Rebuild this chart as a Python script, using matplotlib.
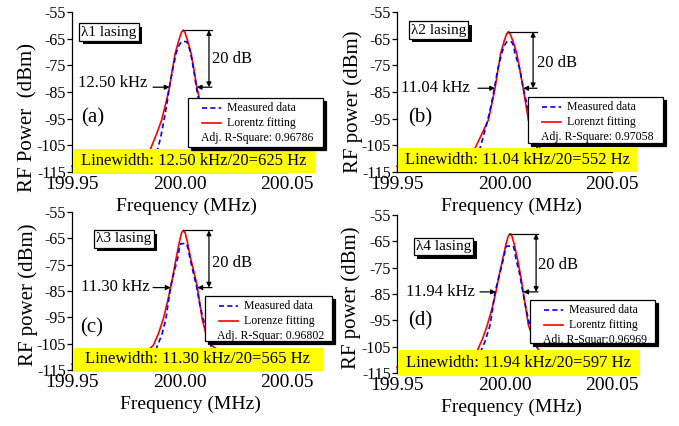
import matplotlib
matplotlib.use('Agg')
import matplotlib.pyplot as plt
from matplotlib.patches import Rectangle
from matplotlib.lines import Line2D
import matplotlib.patheffects as pe
from matplotlib.ticker import FixedLocator, FuncFormatter

plt.rcParams['font.family'] = ['Liberation Serif', 'DejaVu Serif']

# ---------------- data ----------------
x_ticks = [199.95, 200.00, 200.05]
y_ticks = [-115, -105, -95, -85, -75, -65, -55]

# panel (a)
fit_f_a = [199.9500, 199.9657, 199.9757, 199.9822, 199.9865, 199.9892, 199.9917, 199.9937, 199.9954,
           199.9967, 199.9980, 199.9997, 200.0009, 200.0017, 200.0025, 200.0037, 200.0054, 200.0067,
           200.0080, 200.0097, 200.0117, 200.0140, 200.0162, 200.0212, 200.0277, 200.0377, 200.0500]
fit_p_a = [-112.8, -112.3, -111.5, -109.5, -106.4, -101.0, -95.5, -89.0, -83.0,
           -76.5, -70.5, -65.5, -62.6, -61.8, -62.6, -65.5, -70.5, -76.5,
           -83.0, -89.0, -95.5, -101.0, -106.4, -109.5, -111.5, -112.3, -112.8]
meas_f_a = [199.9500, 199.9850, 199.9885, 199.9900, 199.9913, 199.9928, 199.9942, 199.9953, 199.9968,
            199.9984, 199.9998, 200.0010, 200.0033, 200.0042, 200.0052, 200.0066, 200.0078, 200.0092,
            200.0106, 200.0121, 200.0133, 200.0148, 200.0185, 200.0500]
meas_p_a = [-113.0, -112.5, -110.0, -106.0, -101.8, -95.5, -89.2, -83.0, -76.7,
            -70.5, -67.5, -66.1, -66.1, -67.5, -70.5, -76.7, -83.0, -89.2,
            -95.5, -101.8, -105.6, -110.0, -112.5, -113.0]

# panel (b)
fit_f_b = [199.9500, 199.9660, 199.9760, 199.9822, 199.9863, 199.9893, 199.9925, 199.9941, 199.9956,
           199.9969, 199.9982, 199.9998, 200.0010, 200.0018, 200.0026, 200.0040, 200.0057, 200.0072,
           200.0087, 200.0099, 200.0111, 200.0136, 200.0165, 200.0212, 200.0277, 200.0377, 200.0500]
fit_p_b = [-112.8, -112.3, -111.5, -109.5, -106.1, -101.0, -95.5, -89.5, -83.6,
           -77.0, -70.5, -66.0, -63.2, -62.4, -63.2, -66.0, -70.5, -77.0,
           -83.6, -89.5, -95.5, -101.0, -106.1, -109.5, -111.5, -112.3, -112.8]
meas_f_b = [199.9500, 199.9850, 199.9873, 199.9886, 199.9901, 199.9922, 199.9940, 199.9953, 199.9968,
            199.9987, 199.9999, 200.0010, 200.0033, 200.0042, 200.0049, 200.0072, 200.0087, 200.0103,
            200.0118, 200.0135, 200.0152, 200.0165, 200.0195, 200.0500]
meas_p_b = [-113.0, -112.5, -110.0, -106.1, -101.8, -95.5, -89.2, -83.6, -76.7,
            -70.5, -67.6, -66.2, -66.2, -67.6, -70.5, -76.7, -83.6, -89.2,
            -95.5, -101.8, -106.1, -110.0, -112.5, -113.0]

# panel (c)
fit_f_c = [199.9500, 199.9660, 199.9760, 199.9830, 199.9878, 199.9903, 199.9925, 199.9943, 199.9959,
           199.9972, 199.9984, 199.9999, 200.0010, 200.0018, 200.0026, 200.0037, 200.0052, 200.0068,
           200.0083, 200.0094, 200.0105, 200.0125, 200.0150, 200.0205, 200.0277, 200.0377, 200.0500]
fit_p_c = [-112.8, -112.3, -111.5, -109.0, -105.7, -101.0, -95.5, -89.5, -83.5,
           -78.0, -72.7, -66.5, -62.8, -62.0, -62.8, -66.5, -72.7, -78.0,
           -83.5, -89.5, -95.5, -101.9, -105.7, -109.0, -111.5, -112.3, -112.8]
meas_f_c = [199.9500, 199.9850, 199.9882, 199.9897, 199.9917, 199.9937, 199.9948, 199.9959, 199.9971,
            199.9991, 199.9999, 200.0006, 200.0033, 200.0040, 200.0049, 200.0067, 200.0080, 200.0092,
            200.0110, 200.0130, 200.0150, 200.0165, 200.0195, 200.0500]
meas_p_c = [-113.0, -112.5, -110.0, -105.7, -101.9, -95.5, -89.2, -83.5, -79.1,
            -72.7, -69.0, -67.0, -67.0, -69.0, -72.7, -79.1, -83.5, -89.2,
            -95.5, -101.9, -106.8, -110.0, -112.5, -113.0]

# panel (d)
fit_f_d = [199.9500, 199.9660, 199.9760, 199.9830, 199.9871, 199.9898, 199.9920, 199.9942, 199.9960,
           199.9976, 199.9992, 200.0007, 200.0018, 200.0026, 200.0034, 200.0045, 200.0060, 200.0074,
           200.0087, 200.0099, 200.0111, 200.0134, 200.0162, 200.0212, 200.0285, 200.0385, 200.0500]
fit_p_d = [-112.8, -112.3, -111.5, -109.5, -106.9, -102.0, -96.8, -90.5, -84.2,
           -77.5, -71.6, -66.0, -62.9, -62.1, -62.9, -66.0, -71.6, -77.5,
           -84.2, -90.5, -96.8, -102.0, -106.9, -109.5, -111.5, -112.3, -112.8]
meas_f_d = [199.9500, 199.9850, 199.9876, 199.9889, 199.9909, 199.9933, 199.9945, 199.9956, 199.9976,
            199.9995, 200.0003, 200.0010, 200.0041, 200.0047, 200.0053, 200.0072, 200.0085, 200.0100,
            200.0117, 200.0138, 200.0157, 200.0170, 200.0200, 200.0500]
meas_p_d = [-113.0, -112.5, -110.0, -106.9, -103.1, -96.8, -90.5, -84.2, -77.9,
            -71.6, -68.5, -66.8, -66.8, -68.5, -71.6, -77.9, -84.2, -90.5,
            -96.8, -103.1, -106.2, -110.0, -112.5, -113.0]

panel_letters = ['(a)', '(b)', '(c)', '(d)']
lasing_labels = ['\u03bb1 lasing', '\u03bb2 lasing', '\u03bb3 lasing', '\u03bb4 lasing']
ylabels = ['RF Power  (dBm)', 'RF power (dBm)', 'RF power (dBm)', 'RF power (dBm)']
width_labels = ['12.50 kHz', '11.04 kHz', '11.30 kHz', '11.94 kHz']
linewidth_labels = ['Linewidth: 12.50 kHz/20=625 Hz', 'Linewidth: 11.04 kHz/20=552 Hz',
                    'Linewidth: 11.30 kHz/20=565 Hz', 'Linewidth: 11.94 kHz/20=597 Hz']
fit_names = ['Lorentz fitting', 'Lorenzt fitting', 'Lorenze fitting', 'Lorentz fitting']
rsq_labels = ['Adj. R-Square: 0.96786', 'Adj. R-Square: 0.97058',
              'Adj. R-Squar: 0.96802', 'Adj. R-Squar:0.96969']
meas_name = 'Measured data'
db_label = '20 dB'

# ---------------- layout ----------------
W, H = 679, 426
fig = plt.figure(figsize=(W / 100, H / 100), dpi=100)

panels = [
    dict(rect=[72, 12, 215, 160], fit=(fit_f_a, fit_p_a), meas=(meas_f_a, meas_p_a),
         level=-83.2, txt_x=199.9849, txt_y=-81.6, lt=199.9877, lh=199.9954, rt=200.0151, rh=200.0080,
         vx=200.0137, dbx=200.0153, dby=-72.6,
         leg=(0.54, 1.167, 0.156, 0.4625), lam=(0.172, 0.875), let=(0.098, 0.34),
         yel=(0.003, 1.13, -0.004, 0.144), ylab=(-0.16, 0.34), xlab=0.53),
    dict(rect=[397, 12, 215, 160], fit=(fit_f_b, fit_p_b), meas=(meas_f_b, meas_p_b),
         level=-83.6, txt_x=199.9840, txt_y=-83.4, lt=199.9877, lh=199.9956, rt=200.0151, rh=200.0087,
         vx=200.0133, dbx=200.0150, dby=-74.1,
         leg=(0.609, 1.237, 0.181, 0.469), lam=(0.193, 0.8875), let=(0.107, 0.3375),
         yel=(0.003, 1.116, 0.0, 0.15), ylab=(-0.16, 0.44), xlab=0.53),
    dict(rect=[72, 212, 215, 158], fit=(fit_f_c, fit_p_c), meas=(meas_f_c, meas_p_c),
         level=-83.7, txt_x=199.9863, txt_y=-83.4, lt=199.9877, lh=199.9959, rt=200.0151, rh=200.0083,
         vx=200.0137, dbx=200.0150, dby=-74.5,
         leg=(0.619, 1.209, 0.184, 0.468), lam=(0.24, 0.83), let=(0.093, 0.266),
         yel=(0.005, 1.167, -0.006, 0.139), ylab=(-0.158, 0.475), xlab=0.55),
    dict(rect=[397, 215, 215, 158], fit=(fit_f_d, fit_p_d), meas=(meas_f_d, meas_p_d),
         level=-84.2, txt_x=199.9863, txt_y=-84.2, lt=199.9886, lh=199.9960, rt=200.0156, rh=200.0087,
         vx=200.0147, dbx=200.0155, dby=-74.1,
         leg=(0.619, 1.2, 0.19, 0.462), lam=(0.216, 0.80), let=(0.107, 0.33),
         yel=(0.003, 1.13, -0.02, 0.146), ylab=(-0.168, 0.475), xlab=0.53),
]

RED = '#FF0000'
BLUE = '#0000FF'
YEL = '#FFFF00'

for i, p in enumerate(panels):
    l, t, w, h = p['rect']
    ax = fig.add_axes([l / W, 1 - (t + h) / H, w / W, h / H])
    ax.set_facecolor('none')
    ax.set_xlim(199.95, 200.05)
    ax.set_ylim(-115, -55)
    for s in ['top', 'right']:
        ax.spines[s].set_visible(False)
    for s in ['left', 'bottom']:
        ax.spines[s].set_linewidth(0.9)
    ax.xaxis.set_major_locator(FixedLocator(x_ticks))
    ax.xaxis.set_minor_locator(FixedLocator([199.975, 200.025]))
    ax.yaxis.set_major_locator(FixedLocator(y_ticks))
    ax.xaxis.set_major_formatter(FuncFormatter(lambda v, pos: '%.2f' % v))
    ax.yaxis.set_major_formatter(FuncFormatter(lambda v, pos: '%d' % round(v)))
    ax.tick_params(axis='x', which='both', direction='in', length=4, width=0.9, pad=3, labelsize=14)
    ax.tick_params(axis='y', which='major', direction='out', length=3.5, width=0.9, pad=1, labelsize=11.5)
    ax.set_xlabel('Frequency (MHz)', fontsize=14, labelpad=0)
    ax.xaxis.set_label_coords(p['xlab'], -0.163)
    ax.set_ylabel(ylabels[i], fontsize=15)
    ax.yaxis.set_label_coords(p['ylab'][0], p['ylab'][1])

    ff, fp = p['fit']
    mf, mp = p['meas']
    ax.plot(ff, fp, color=RED, lw=1.2, zorder=2, clip_on=False)
    ax.plot(mf, mp, color=BLUE, lw=1.2, ls=(0, (3, 2)), zorder=2.1, clip_on=False)

    # annotations
    peak = max(fp)
    peak_x = ff[fp.index(peak)]
    lv = p['level']
    ap1 = dict(arrowstyle='-|>', color='black', lw=0.9, mutation_scale=7, shrinkA=0, shrinkB=0)
    ap2 = dict(arrowstyle='<|-|>', color='black', lw=0.9, mutation_scale=7, shrinkA=0, shrinkB=0)
    ax.annotate('', xy=(p['lh'], lv), xytext=(p['lt'], lv), arrowprops=ap1, zorder=4)
    ax.annotate('', xy=(p['rh'], lv), xytext=(p['rt'], lv), arrowprops=ap1, zorder=4)
    ax.annotate('', xy=(p['vx'], lv), xytext=(p['vx'], peak), arrowprops=ap2, zorder=4)
    ax.plot([peak_x, p['rt']], [peak, peak], color='black', lw=0.9, zorder=4)
    ax.text(p['txt_x'], p['txt_y'], width_labels[i], ha='right', va='center', fontsize=12, zorder=4)
    ax.text(p['dbx'], p['dby'], db_label, ha='left', va='center', fontsize=12, zorder=4)

    # panel letter
    ax.text(p['let'][0], p['let'][1], panel_letters[i], transform=ax.transAxes,
            ha='center', va='center', fontsize=15, zorder=4)

    # lasing box with shadow
    lx, ly = p['lam']
    lt_txt = ax.text(lx, ly, lasing_labels[i], transform=ax.transAxes, ha='center', va='center',
                     fontsize=11, bbox=dict(boxstyle='square,pad=0.15', fc='white', ec='black', lw=0.9),
                     zorder=5.1)
    lt_txt.get_bbox_patch().set_path_effects(
        [pe.SimplePatchShadow(offset=(2.5, -2.5), shadow_rgbFace='black', alpha=1.0), pe.Normal()])

    # legend box (manual) with shadow
    x0, x1, y0, y1 = p['leg']
    sdx, sdy = 3 / w, 3 / h
    ax.add_patch(Rectangle((x0 + sdx, y0 - sdy), x1 - x0, y1 - y0, transform=ax.transAxes,
                           fc='black', ec='black', lw=0.9, clip_on=False, zorder=5))
    ax.add_patch(Rectangle((x0, y0), x1 - x0, y1 - y0, transform=ax.transAxes,
                           fc='white', ec='black', lw=0.9, clip_on=False, zorder=5.1))
    r1 = y1 - 10 / h
    r2 = y1 - 25 / h
    r3 = y1 - 40 / h
    ax.add_line(Line2D([x0 + 14 / w, x0 + 33 / w], [r1, r1], transform=ax.transAxes, color=BLUE,
                       lw=1.2, ls=(0, (3, 2)), clip_on=False, zorder=5.2))
    ax.add_line(Line2D([x0 + 14 / w, x0 + 33 / w], [r2, r2], transform=ax.transAxes, color=RED,
                       lw=1.2, clip_on=False, zorder=5.2))
    ax.text(x0 + 39 / w, r1, meas_name, transform=ax.transAxes, ha='left', va='center',
            fontsize=8.5, zorder=5.3)
    ax.text(x0 + 39 / w, r2, fit_names[i], transform=ax.transAxes, ha='left', va='center',
            fontsize=8.5, zorder=5.3)
    ax.text((x0 + x1) / 2 + 2 / w, r3, rsq_labels[i], transform=ax.transAxes, ha='center', va='center',
            fontsize=8.5, zorder=5.3)

    # yellow linewidth box
    a0, a1, b0, b1 = p['yel']
    ax.add_patch(Rectangle((a0, b0), a1 - a0, b1 - b0, transform=ax.transAxes,
                           fc=YEL, ec='none', clip_on=False, zorder=3))
    ax.text((a0 + a1) / 2, (b0 + b1) / 2, linewidth_labels[i], transform=ax.transAxes,
            ha='center', va='center', fontsize=12, zorder=3.1)

fig.savefig('out.png', dpi=100)
